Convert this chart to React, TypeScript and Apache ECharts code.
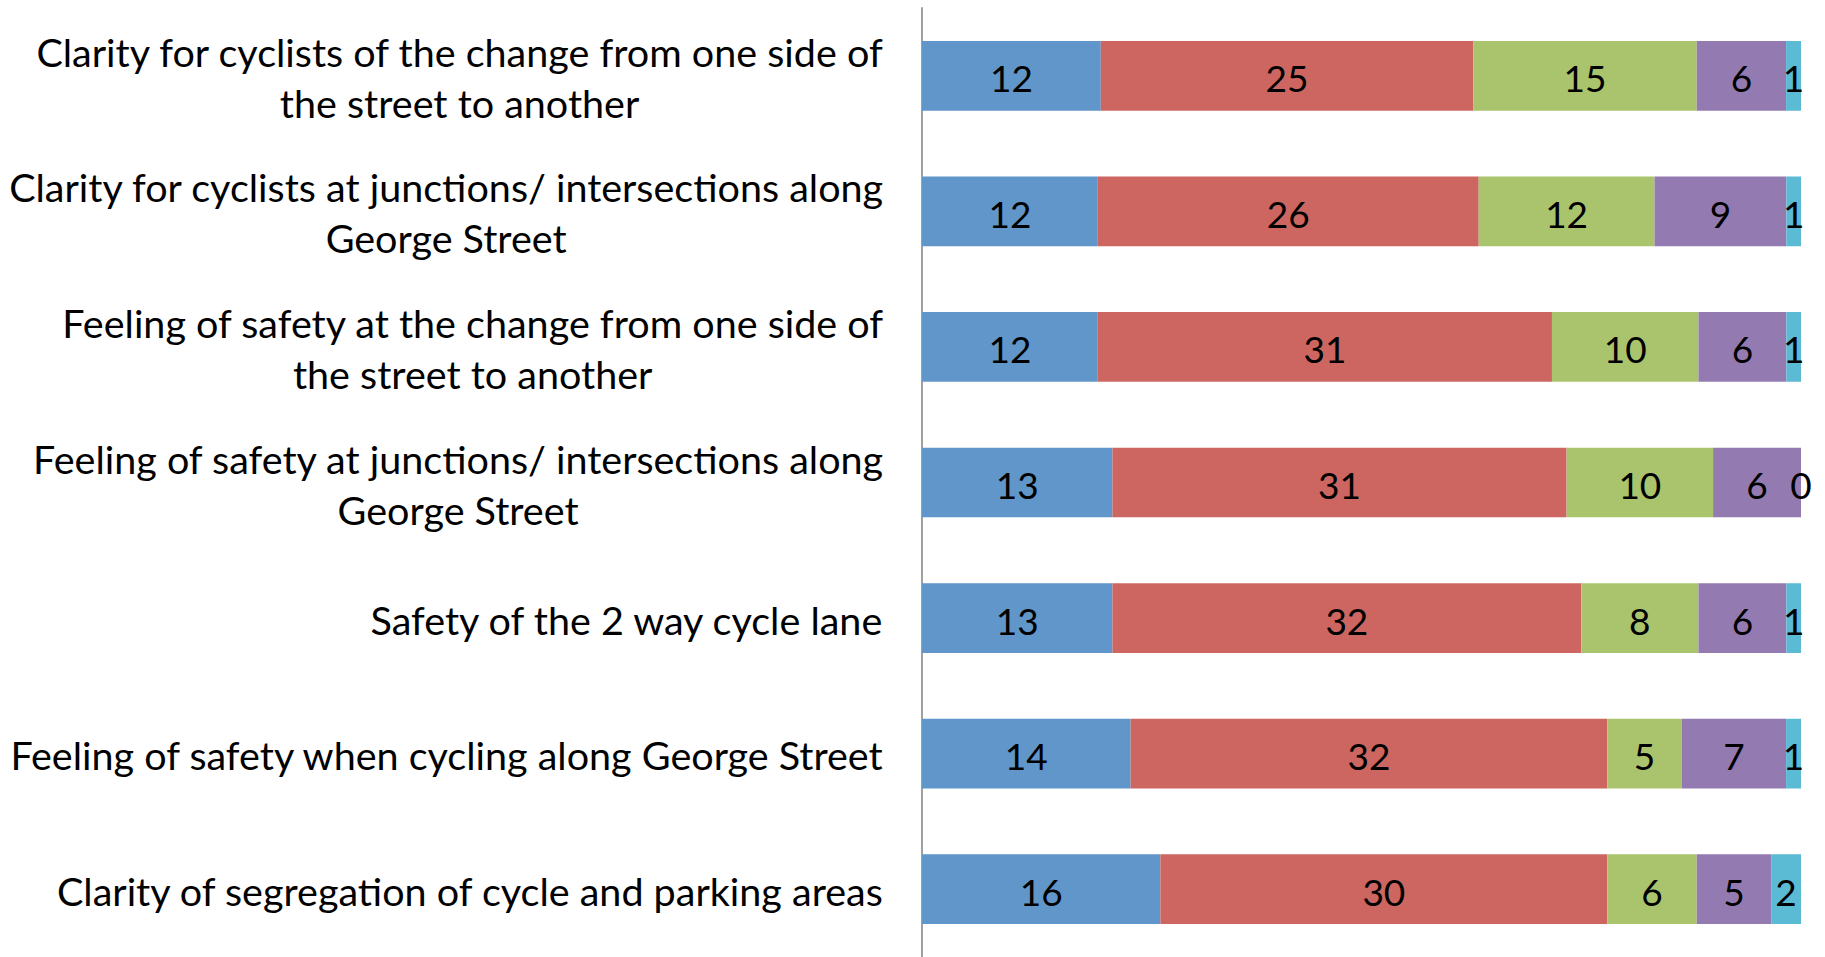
import React, { useEffect, useRef } from "react";
import * as echarts from "echarts";

const categories: string[] = [
  "Clarity for cyclists of the change from one side of\nthe street to another",
  "Clarity for cyclists at junctions/ intersections along\nGeorge Street",
  "Feeling of safety at the change from one side of\nthe street to another",
  "Feeling of safety at junctions/ intersections along\nGeorge Street",
  "Safety of the 2 way cycle lane",
  "Feeling of safety when cycling along George Street",
  "Clarity of segregation of cycle and parking areas",
];

const seriesA: number[] = [12, 12, 12, 13, 13, 14, 16];
const seriesB: number[] = [25, 26, 31, 31, 32, 32, 30];
const seriesC: number[] = [15, 12, 10, 10, 8, 5, 6];
const seriesD: number[] = [6, 9, 6, 6, 6, 7, 5];
const seriesE: number[] = [1, 1, 1, 0, 1, 1, 2];

const seriesNames: string[] = ["Series 1", "Series 2", "Series 3", "Series 4", "Series 5"];
const seriesColors: string[] = ["#6096C9", "#CD6660", "#AAC46D", "#937BB1", "#5BBAD4"];

const FONT = "Lato, 'Open Sans', sans-serif";

export default function App() {
  const ref = useRef<HTMLDivElement>(null);

  useEffect(() => {
    if (!ref.current) return;
    const chart = echarts.init(ref.current, undefined, { renderer: "svg" });
    const all = [seriesA, seriesB, seriesC, seriesD, seriesE];
    const totals = categories.map((_, i) => all.reduce((s, arr) => s + arr[i], 0));

    const series = all.map((arr, si) => ({
      name: seriesNames[si],
      type: "bar",
      stack: "total",
      barCategoryGap: "48.6%",
      itemStyle: { color: seriesColors[si] },
      label: {
        show: true,
        position: "inside",
        offset: [0, 2],
        color: "#000",
        fontFamily: FONT,
        fontSize: 37,
        formatter: (p: any) => String(arr[p.dataIndex]),
      },
      data: arr.map((v, i) => (v / totals[i]) * 100),
    }));

    chart.setOption({
      animation: false,
      grid: { left: 922, right: 24, top: 8, height: 954, containLabel: false },
      xAxis: {
        type: "value",
        min: 0,
        max: 100,
        show: false,
      },
      yAxis: {
        type: "category",
        inverse: true,
        data: categories,
        axisLine: { show: true, lineStyle: { color: "#A0A0A0", width: 2 } },
        axisTick: { show: false },
        splitLine: { show: false },
        axisLabel: {
          margin: 38,
          align: "right",
          formatter: (v: string) =>
            v
              .split("\n")
              .map((l) => `{c|${l}}`)
              .join("\n"),
          rich: {
            c: {
              align: "center",
              fontFamily: FONT,
              fontSize: 39.5,
              lineHeight: 51,
              color: "#000",
              padding: [2, 0, 0, 0],
            },
          },
        },
      },
      series,
    });

    return () => chart.dispose();
  }, []);

  return (
    <div
      ref={ref}
      style={{ position: "absolute", left: 0, top: 0, width: 1825, height: 957 }}
    />
  );
}
